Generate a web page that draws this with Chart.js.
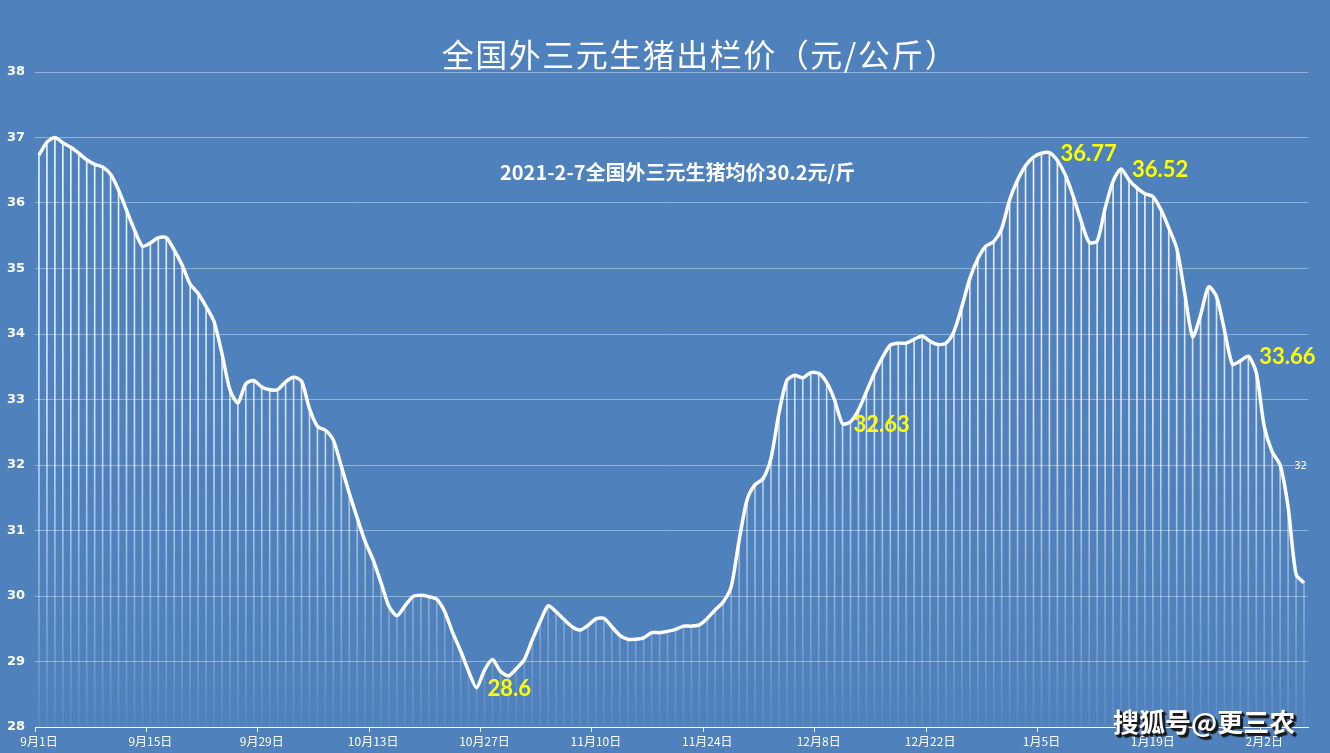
<!DOCTYPE html>
<html>
<head>
<meta charset="utf-8">
<script src="https://cdn.jsdelivr.net/npm/chart.js"></script>
<style>
  html, body { margin: 0; padding: 0; background: #4f81bd; overflow: hidden; }
  #wrap { position: relative; width: 1330px; height: 753px; }
  #judul { position: absolute; left: 0; width: 1400px; top: 33px; text-align: center;
    font: 32px "Noto Sans CJK SC", sans-serif; color: #fff; letter-spacing: 1.5px; line-height: 40px; }
  #catatan { position: absolute; left: 500px; top: 160px; font: bold 20px "Noto Sans CJK SC", sans-serif;
    color: #fff; line-height: 24px; white-space: nowrap; }
  #sumber { position: absolute; left: 1113px; top: 704px; font: bold 26px "Noto Sans CJK SC", sans-serif;
    color: #fff; line-height: 34px; white-space: nowrap;
    text-shadow: 1px 1px 0 #1a1a1a, 2px 2px 0 #1a1a1a, 3px 3px 1px #1a1a1a; }
</style>
</head>
<body>
<div id="wrap">
  <canvas id="hargaChart" width="1330" height="753"></canvas>
  <div id="judul">全国外三元生猪出栏价（元/公斤）</div>
  <div id="catatan">2021-2-7全国外三元生猪均价30.2元/斤</div>
  <div id="sumber">搜狐号@更三农</div>
</div>
<script>
// Harga harian 9月1日 (2020) sampai 2月7日 (2021)
const hargaHarian = [
  36.73, 36.93, 37.00, 36.92, 36.85, 36.76, 36.66, 36.59, 36.55, 36.44,
  36.20, 35.89, 35.59, 35.34, 35.39, 35.47, 35.47, 35.28, 35.05, 34.76,
  34.62, 34.42, 34.19, 33.70, 33.15, 32.95, 33.24, 33.29, 33.19, 33.15,
  33.15, 33.27, 33.34, 33.28, 32.86, 32.59, 32.53, 32.38, 31.98, 31.57,
  31.19, 30.83, 30.55, 30.20, 29.84, 29.70, 29.85, 29.99, 30.01, 29.99,
  29.95, 29.76, 29.44, 29.16, 28.85, 28.60, 28.87, 29.03, 28.85, 28.78,
  28.89, 29.03, 29.33, 29.61, 29.85, 29.76, 29.64, 29.53, 29.48, 29.55,
  29.65, 29.66, 29.53, 29.40, 29.34, 29.34, 29.36, 29.44, 29.44, 29.46,
  29.49, 29.54, 29.54, 29.56, 29.66, 29.79, 29.91, 30.14, 30.85, 31.47,
  31.70, 31.79, 32.10, 32.79, 33.29, 33.37, 33.33, 33.41, 33.40, 33.26,
  32.99, 32.63, 32.66, 32.84, 33.12, 33.40, 33.64, 33.83, 33.86, 33.86,
  33.92, 33.97, 33.89, 33.84, 33.86, 34.04, 34.42, 34.85, 35.15, 35.34,
  35.41, 35.61, 36.05, 36.35, 36.57, 36.70, 36.76, 36.77, 36.65, 36.43,
  36.10, 35.72, 35.40, 35.42, 35.92, 36.33, 36.52, 36.35, 36.23, 36.14,
  36.10, 35.90, 35.62, 35.31, 34.63, 33.96, 34.29, 34.72, 34.57, 34.06,
  33.54, 33.59, 33.66, 33.41, 32.59, 32.20, 32.00, 31.36, 30.33, 30.20
];

// Label tanggal yang tampil di sumbu X
const labelSumbuX = ['9月1日', '9月15日', '9月29日', '10月13日', '10月27日', '11月10日',
  '11月24日', '12月8日', '12月22日', '1月5日', '1月19日', '2月2日'];

// Titik yang diberi angka (indeks hari)
const titikKuning = [55, 101, 127, 136, 152];
const titikKecil = [156];

// Kategori: satu per hari
const tanggal = [];
const mulai = new Date(2020, 8, 1);
for (let i = 0; i < hargaHarian.length; i++) {
  const d = new Date(mulai.getFullYear(), mulai.getMonth(), mulai.getDate() + i);
  tanggal.push((d.getMonth() + 1) + '月' + d.getDate() + '日');
}

let gradienGaris = null;
function warnaGaris(ctx) {
  const area = ctx.chart.chartArea;
  if (!area) return 'rgba(255,255,255,0.6)';
  if (!gradienGaris) {
    gradienGaris = ctx.chart.ctx.createLinearGradient(0, area.top, 0, area.bottom);
    gradienGaris.addColorStop(0, 'rgba(255,255,255,0.95)');
    gradienGaris.addColorStop(0.55, 'rgba(255,255,255,0.7)');
    gradienGaris.addColorStop(1, 'rgba(255,255,255,0.06)');
  }
  return gradienGaris;
}

// Plugin untuk angka di samping titik
const labelAngka = {
  id: 'labelAngka',
  afterDatasetsDraw(chart) {
    const meta = chart.getDatasetMeta(0);
    const c = chart.ctx;
    c.save();
    c.textBaseline = 'middle';
    c.textAlign = 'left';
    c.fillStyle = '#ffff00';
    c.font = 'bold 22px Lato, "Open Sans", sans-serif';
    titikKuning.forEach(i => {
      const p = meta.data[i];
      c.fillText(String(hargaHarian[i]), p.x + 11, p.y + 1);
    });
    c.fillStyle = '#ffffff';
    c.font = '10px "DejaVu Sans", sans-serif';
    titikKecil.forEach(i => {
      const p = meta.data[i];
      c.fillText(String(hargaHarian[i]), p.x + 14, p.y + 1);
    });
    c.restore();
  }
};

const ctx = document.getElementById('hargaChart').getContext('2d');
const hargaChart = new Chart(ctx, {
  data: {
    labels: tanggal,
    datasets: [{
      type: 'line',
      data: hargaHarian,
      borderColor: '#ffffff',
      borderWidth: 3.5,
      pointRadius: 0,
      tension: 0.25,
      order: 0
    }, {
      type: 'bar',
      data: hargaHarian,
      backgroundColor: warnaGaris,
      borderWidth: 0,
      barThickness: 1,
      order: 1
    }]
  },
  options: {
    responsive: false,
    animation: false,
    layout: { padding: { top: 72, right: 22, left: 0, bottom: 0 } },
    plugins: {
      legend: { display: false },
      tooltip: { enabled: false }
    },
    scales: {
      x: {
        offset: true,
        afterFit: s => { s.height = 26; },
        border: { display: true, color: '#ffffff', width: 1 },
        grid: {
          offset: true,
          drawOnChartArea: false,
          drawTicks: true,
          tickLength: 5,
          tickColor: c => (c.index % 14 === 0 ? '#ffffff' : 'rgba(0,0,0,0)')
        },
        ticks: {
          autoSkip: false,
          maxRotation: 0,
          minRotation: 0,
          padding: 2,
          color: '#ffffff',
          font: { family: '"Noto Sans CJK SC", sans-serif', size: 12 },
          callback: function (v, i) {
            const lbl = this.getLabelForValue(v);
            return labelSumbuX.includes(lbl) ? lbl : '';
          }
        }
      },
      y: {
        min: 28,
        max: 38,
        afterFit: s => { s.width = 35; },
        border: { display: false },
        grid: { color: 'rgba(255,255,255,0.38)', drawTicks: false },
        ticks: {
          stepSize: 1,
          padding: 10,
          color: '#ffffff',
          font: { family: '"DejaVu Sans", sans-serif', size: 13, weight: 'bold' }
        }
      }
    }
  },
  plugins: [labelAngka]
});
</script>
</body>
</html>
